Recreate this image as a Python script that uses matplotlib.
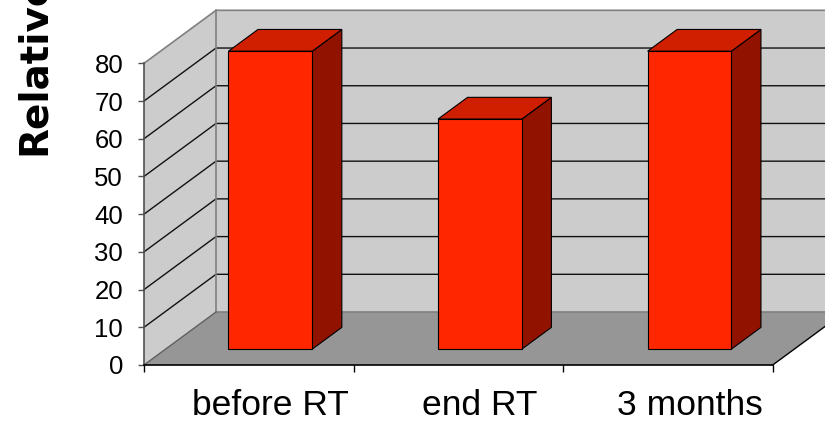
import matplotlib
matplotlib.use("Agg")
import matplotlib.pyplot as plt
from matplotlib.patches import Polygon
import numpy as np

categories = ["before RT", "end RT", "3 months"]
values = [79, 61, 79]
yticks = [0, 10, 20, 30, 40, 50, 60, 70, 80]

# oblique depth vector (data units) for the 3-D box
DX, DY = 0.3436, 14.05
D0, D1 = 0.30, 0.71      # bar depth span within the floor
HALF_W = 0.20

WALL = "#cccccc"
FLOOR = "#969696"
FRONT = "#ff2600"
TOP = "#cf1e00"
SIDE = "#921200"

fig = plt.figure(figsize=(8.25, 4.25), dpi=100)
ax = fig.add_axes([144 / 825, 60 / 425, 628.7 / 825, 301.7 / 425])
ax.set_xlim(0, 3)
ax.set_ylim(0, 80)
ax.patch.set_visible(False)

ymax = yticks[-1]
ncat = len(categories)


def poly(pts, color, z, edge="none", lw=0):
    p = Polygon(pts, closed=True, facecolor=color, edgecolor=edge,
                linewidth=lw, zorder=z, clip_on=False)
    ax.add_patch(p)


# walls and floor
poly([(0, 0), (DX, DY), (DX, ymax + DY), (0, ymax)], WALL, 0.5)
poly([(DX, DY), (ncat + DX, DY), (ncat + DX, ymax + DY), (DX, ymax + DY)], WALL, 0.5)
poly([(0, 0), (ncat, 0), (ncat + DX, DY), (DX, DY)], FLOOR, 0.5)

for v in yticks[1:-1]:
    ax.plot([0, DX, ncat + DX], [v, v + DY, v + DY], color="#111111",
            lw=1.0, zorder=0.6, clip_on=False)

edge_kw = dict(color="#808080", lw=1.2, zorder=0.7, clip_on=False)
ax.plot([0, DX, ncat + DX], [ymax, ymax + DY, ymax + DY], **edge_kw)
ax.plot([DX, DX], [DY, ymax + DY], **edge_kw)
ax.plot([DX, ncat + DX], [DY, DY], **edge_kw)
ax.plot([0, DX], [0, DY], color="#606060", lw=1.0, zorder=0.7, clip_on=False)
ax.plot([ncat, ncat + DX], [0, DY], color="black", lw=1.0, zorder=0.7, clip_on=False)

# bars: side, top, front
for i, v in enumerate(values):
    cx = i + 0.5
    x0 = cx - HALF_W + D0 * DX
    x1 = cx + HALF_W + D0 * DX
    yb = D0 * DY
    yt = v + D0 * DY
    ddx = (D1 - D0) * DX
    ddy = (D1 - D0) * DY
    poly([(x1, yb), (x1 + ddx, yb + ddy), (x1 + ddx, yt + ddy), (x1, yt)],
         SIDE, 2, "black", 0.8)
    poly([(x0, yt), (x1, yt), (x1 + ddx, yt + ddy), (x0 + ddx, yt + ddy)],
         TOP, 2, "black", 0.8)
    poly([(x0, yb), (x1, yb), (x1, yt), (x0, yt)], FRONT, 2.1, "black", 0.8)

# axes
for s in ["top", "right"]:
    ax.spines[s].set_visible(False)
ax.spines["left"].set_color("#505050")
ax.spines["left"].set_linewidth(1.2)
ax.spines["bottom"].set_color("black")
ax.spines["bottom"].set_linewidth(1.2)
ax.spines["left"].set_zorder(3)
ax.spines["bottom"].set_zorder(3)

ax.set_yticks(yticks)
ax.tick_params(axis="y", length=4, width=1, color="#505050", pad=11,
               labelsize=18.5, labelfontfamily="Liberation Sans")

ax.set_xticks(range(ncat + 1))
ax.set_xticklabels([])
ax.set_xticks([i + 0.5 + D0 * DX for i in range(ncat)], minor=True)
ax.set_xticklabels(categories, minor=True, fontsize=25.5, family="Liberation Sans")
ax.tick_params(axis="x", which="major", length=5, width=1, color="black")
ax.tick_params(axis="x", which="minor", length=0, pad=17)

fig.text(34 / 825, 1 - 155 / 425, "Relative", rotation=90, ha="center",
         va="bottom", fontsize=28, fontweight="bold", family="DejaVu Sans")

fig.savefig("out.png", dpi=100)
